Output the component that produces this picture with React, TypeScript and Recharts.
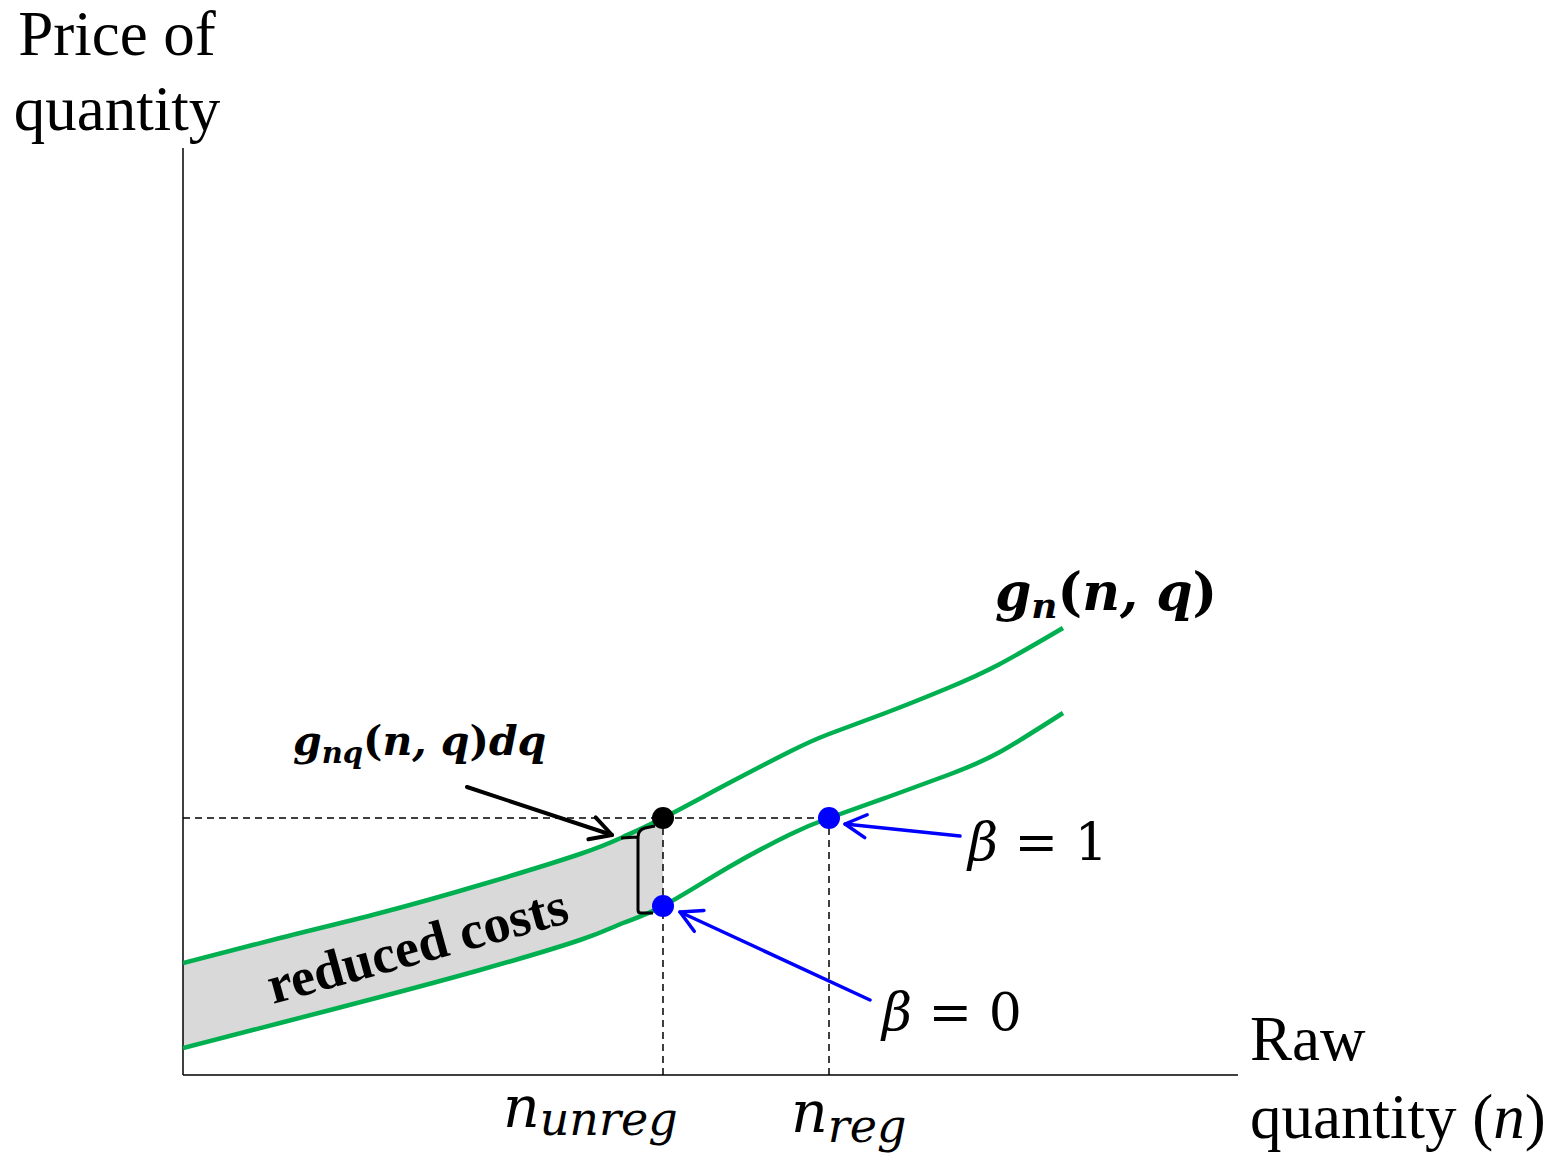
import { ComposedChart, Line, Area, XAxis, YAxis, ReferenceLine, ReferenceDot } from 'recharts'

// raw quantity (n) and the two price curves (arbitrary units)
const quantity = [0, 97, 197, 297, 397, 440, 480, 546, 608, 646, 705, 765, 815, 880]
const priceUpper = [112, 137, 162, 190, 221, 238, 257, 292, 324, 341, 363, 387, 410, 447]
const priceLower = [27, 52, 78, 105, 135, 152, 169, 208, 241, 257, 278, 300, 322, 362]

const nUnreg = 480
const nReg = 646
const priceBeta1 = 257
const priceBeta0 = 169
const nMax = 1055
const priceMax = 927

// annotation anchors: [tail, tip] in the same units
const arrowDq = [{ x: 284, y: 288 }, { x: 429, y: 240 }]
const arrowBeta1 = [{ x: 777, y: 239 }, { x: 662, y: 251 }]
const arrowBeta0 = [{ x: 687, y: 75 }, { x: 497, y: 163 }]
const brace = [{ x: 472, y: 249 }, { x: 472, y: 162 }]

const W = 1563
const H = 1158
const GREEN = '#00b050'
const BLUE = '#0000ff'
const MATH = '"DejaVu Serif", serif'
const TIMES = '"Liberation Serif", "Times New Roman", serif'

const rows = quantity.map((n, i) => ({ n, upper: priceUpper[i], lower: priceLower[i] }))
const band = rows.filter(r => r.n <= nUnreg).map(r => ({ n: r.n, band: [r.lower, r.upper] }))

function Arrow(p: any) {
  const { x1, y1, x2, y2, stroke, strokeWidth } = p
  const a = Math.atan2(y2 - y1, x2 - x1)
  const h = 24, s = 0.5
  const l = [x2 - h * Math.cos(a - s), y2 - h * Math.sin(a - s)]
  const r = [x2 - h * Math.cos(a + s), y2 - h * Math.sin(a + s)]
  return (
    <g fill="none" stroke={stroke} strokeWidth={strokeWidth} strokeLinecap="round" strokeLinejoin="round">
      <line x1={x1} y1={y1} x2={x2} y2={y2} />
      <polyline points={`${l[0]},${l[1]} ${x2},${y2} ${r[0]},${r[1]}`} />
    </g>
  )
}

function Brace(p: any) {
  const { x1, y1, y2, stroke, strokeWidth } = p
  const sx = x1 - 17
  const d = `M${x1},${y1} L${x1 - 10},${y1 + 2} Q${sx},${y1 + 4} ${sx},${y1 + 11} L${sx},${y2 - 3} Q${sx},${y2} ${sx + 3},${y2} L${x1 - 2},${y2} M${x1 - 34},${y1 + 12} L${sx},${y1 + 11}`
  return <path d={d} fill="none" stroke={stroke} strokeWidth={strokeWidth} strokeLinejoin="round" />
}

const dash = { stroke: '#000', strokeWidth: 1.5, strokeDasharray: '7 5' }
const axis = { stroke: '#000', strokeWidth: 1.5 }

export default function App() {
  return (
    <div style={{ position: 'absolute', left: 0, top: 0, width: W, height: H, background: '#fff' }}>
      <ComposedChart width={W} height={H} data={rows} margin={{ top: 148, right: 325, bottom: 83, left: 183 }}>
        <XAxis dataKey="n" type="number" domain={[0, nMax]} hide allowDataOverflow />
        <YAxis type="number" domain={[0, priceMax]} hide allowDataOverflow />
        <Area data={band} dataKey="band" type="natural" fill="#d9d9d9" fillOpacity={1} stroke="none"
          isAnimationActive={false} />
        <ReferenceLine segment={[{ x: 0, y: 0 }, { x: nMax, y: 0 }]} {...axis} />
        <ReferenceLine segment={[{ x: 0, y: 0 }, { x: 0, y: priceMax }]} {...axis} />
        <ReferenceLine segment={[{ x: 0, y: priceBeta1 }, { x: nReg, y: priceBeta1 }]} {...dash} />
        <ReferenceLine segment={[{ x: nUnreg, y: 0 }, { x: nUnreg, y: priceBeta1 }]} {...dash} />
        <ReferenceLine segment={[{ x: nReg, y: 0 }, { x: nReg, y: priceBeta1 }]} {...dash} />
        <Line dataKey="upper" type="natural" stroke={GREEN} strokeWidth={4.5} dot={false} activeDot={false}
          isAnimationActive={false} />
        <Line dataKey="lower" type="natural" stroke={GREEN} strokeWidth={4.5} dot={false} activeDot={false}
          isAnimationActive={false} />
        <ReferenceLine segment={brace} stroke="#000" strokeWidth={3} shape={<Brace />} />
        <ReferenceLine segment={arrowDq} stroke="#000" strokeWidth={4} shape={<Arrow />} />
        <ReferenceLine segment={arrowBeta1} stroke={BLUE} strokeWidth={3.5} shape={<Arrow />} />
        <ReferenceLine segment={arrowBeta0} stroke={BLUE} strokeWidth={3.5} shape={<Arrow />} />
        <ReferenceDot x={nUnreg} y={priceBeta1} r={11} fill="#000" stroke="none" />
        <ReferenceDot x={nUnreg} y={priceBeta0} r={11} fill={BLUE} stroke="none" />
        <ReferenceDot x={nReg} y={priceBeta1} r={11} fill={BLUE} stroke="none" />
      </ComposedChart>

      <svg width={W} height={H} style={{ position: 'absolute', left: 0, top: 0, pointerEvents: 'none' }}>
        <g fontFamily={TIMES} fontSize={63} fill="#000">
          <text x={117} y={55} textAnchor="middle">Price of</text>
          <text x={117} y={130} textAnchor="middle">quantity</text>
          <text x={1250} y={1060}>Raw</text>
          <text x={1250} y={1138}>quantity (<tspan fontStyle="italic">n</tspan>)</text>
        </g>
        <text x={273} y={1004} fontFamily={TIMES} fontSize={54} fontWeight="bold" transform="rotate(-15.4 273 1004)">
          reduced costs
        </text>
        <g fontFamily={MATH} fontStyle="italic" fill="#000">
          <text x={503} y={1127} fontSize={57}>n<tspan fontSize={46} dy={8}>unreg</tspan></text>
          <text x={791} y={1132} fontSize={57}>n<tspan fontSize={46} dy={10}>reg</tspan></text>
          <text x={968} y={860} fontSize={52}>β<tspan fontStyle="normal"> = 1</tspan></text>
          <text x={882} y={1030} fontSize={52}>β<tspan fontStyle="normal"> = 0</tspan></text>
          <text x={995} y={610} fontSize={52} fontWeight="bold">
            g<tspan fontSize={36} dy={8}>n</tspan><tspan dy={-8} fontStyle="normal">(</tspan>n, q<tspan fontStyle="normal">)</tspan>
          </text>
          <text x={293} y={755} fontSize={41} fontWeight="bold">
            g<tspan fontSize={29} dy={8}>nq</tspan><tspan dy={-8} fontStyle="normal">(</tspan>n, q<tspan fontStyle="normal">)</tspan>dq
          </text>
        </g>
      </svg>
    </div>
  )
}
